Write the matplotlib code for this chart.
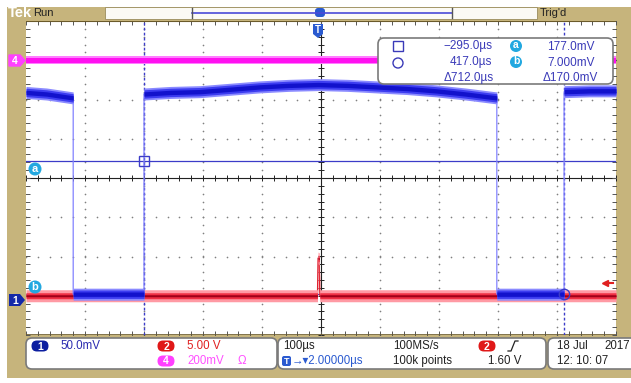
import matplotlib.pyplot as plt
import numpy as np
from matplotlib.patches import Rectangle, FancyBboxPatch, Circle, Polygon

plt.rcParams['font.family'] = ['Liberation Sans', 'DejaVu Sans']

# 时基: 100 µs/div, 屏幕中心对应 +5 µs
t_div = 100.0
t_center = 5.0
# 通道刻度 (每格) 与垂直位置 (格)
ch1_scale, ch1_pos = 50.0, -3.1    # mV/div
ch2_scale, ch2_pos = 5.0, -3.0     # V/div
ch4_scale, ch4_pos = 200.0, 3.0    # mV/div

# 通道1 波形 (µs, mV)
ch1_t = [-495, -460, -415, -415, -295, -295, -250, -200, -150, -100, -50, 0,
         50, 100, 150, 200, 250, 303, 303, 417, 417, 460, 505]
ch1_mv = [264, 262, 257, 7, 7, 262, 264, 265, 268, 271, 273, 274,
          273, 271, 269, 266, 262, 257, 7, 7, 265, 266, 266]
# 通道2 波形 (µs, V)
ch2_t = [-495, -1, 0, 2, 3, 505]
ch2_v = [0, 0, 4.8, 4.7, 0, 0]
# 通道4 波形 (µs, mV)
ch4_t = [-495, 505]
ch4_mv = [0, 0]

# 光标
cur_t = [-295.0, 417.0]     # µs
cur_mv = [177.0, 7.0]       # mV
trig_level = 1.60           # V

W, H = 631, 383
gold = '#c6b47c'
fig = plt.figure(figsize=(W / 100, H / 100), dpi=100)
fig.patch.set_facecolor('white')

bg = fig.add_axes([0, 0, 1, 1], zorder=0)
bg.set_xlim(0, W)
bg.set_ylim(H, 0)
bg.axis('off')
bg.add_patch(Rectangle((7, 7), W - 7, 371, color=gold, lw=0))

# 波形显示区
ax = fig.add_axes([26 / W, (H - 335) / H, 590 / W, 314 / H], zorder=1)
ax.set_xlim(t_center - 5 * t_div, t_center + 5 * t_div)
ax.set_ylim(-4, 4)
ax.set_facecolor('white')
ax.set_xticks([])
ax.set_yticks([])
for s in ax.spines.values():
    s.set_visible(False)
px = 8 / 314  # 一个像素对应的格数

# 网格点
minor_x = t_center + t_div * np.arange(-5, 5.001, 0.2)
minor_y = np.arange(-4, 4.001, 0.2)
for k in range(-4, 5):
    if k == 0:
        continue
    ax.plot(np.full_like(minor_y, t_center + k * t_div), minor_y, ls='none',
            marker='o', ms=1.2, mew=0, color='#808080', zorder=1)
for k in range(-3, 4):
    if k == 0:
        continue
    ax.plot(minor_x, np.full_like(minor_x, k), ls='none',
            marker='o', ms=1.2, mew=0, color='#808080', zorder=1)

# 中心十字线和刻度
ax.axhline(0, color='#222222', lw=0.8, zorder=1)
ax.axvline(t_center, color='#222222', lw=0.8, zorder=1)
ax.plot(minor_x, np.zeros_like(minor_x), ls='none', marker='|', ms=4,
        mew=0.7, color='#222222', zorder=1)
ax.plot(np.full_like(minor_y, t_center), minor_y, ls='none', marker='_',
        ms=4, mew=0.7, color='#222222', zorder=1)
# 边框刻度
for yy in (-4, 4):
    ax.plot(minor_x, np.full_like(minor_x, yy), ls='none', marker='|', ms=6,
            mew=0.7, color='#555555', zorder=1)
for xx in (t_center - 5 * t_div, t_center + 5 * t_div):
    ax.plot(np.full_like(minor_y, xx), minor_y, ls='none', marker='_', ms=6,
            mew=0.7, color='#555555', zorder=1)
ax.axhline(4, color='#6b5a2a', lw=1.5, zorder=1)
ax.axhline(-4, color='#6b5a2a', lw=1.2, zorder=1)

# 光标线
cur_y = [ch1_pos + v / ch1_scale for v in cur_mv]
cur_col = '#3c3cc8'
for t in cur_t:
    ax.axvline(t, color=cur_col, lw=1.0, ls=(0, (2, 1.6)), zorder=2)
for y in cur_y:
    ax.axhline(y, color=cur_col, lw=0.9, zorder=2)

# 通道4 (品红)
y4 = ch4_pos + np.array(ch4_mv) / ch4_scale
ax.fill_between(ch4_t, y4 - 4 * px, y4 + 4 * px, color='#ff7cff', lw=0, zorder=3)
ax.fill_between(ch4_t, y4 - 2.5 * px, y4 + 2.5 * px, color='#ff10f0', lw=0, zorder=3)

# 通道2 (红)
y2 = ch2_pos + np.array(ch2_v) / ch2_scale
ax.plot(ch2_t, y2, color='#e0202e', lw=0.9, zorder=3)
ax.fill_between(ch2_t, y2 - 6 * px, y2 + 6 * px, color='#ff9aa4', lw=0, zorder=3)
ax.fill_between(ch2_t, y2 - 3 * px, y2 + 3 * px, color='#f03044', lw=0, zorder=3)
ax.fill_between(ch2_t, y2 - 1 * px, y2 + 1 * px, color='#a00018', lw=0, zorder=3)

# 通道1 (蓝)
y1 = ch1_pos + np.array(ch1_mv) / ch1_scale
ax.plot(ch1_t, y1, color='#8282ff', lw=0.9, zorder=4)
ax.fill_between(ch1_t, y1 - 6 * px, y1 + 6 * px, color='#8a8aff', lw=0, zorder=4)
ax.fill_between(ch1_t, y1 - 4.2 * px, y1 + 4.2 * px, color='#3c3cf0', lw=0, zorder=4)
ax.fill_between(ch1_t, y1 - 2.2 * px, y1 + 2.2 * px, color='#1212cc', lw=0, zorder=4)

# 光标交点标记
ax.plot(cur_t[0], cur_y[0], marker='s', ms=7.5, mfc='none', mec=cur_col,
        mew=1.0, zorder=5)
ax.plot(cur_t[1], cur_y[1], marker='o', ms=7.5, mfc='none', mec=cur_col,
        mew=1.0, zorder=5)

# 触发电平箭头
ax.plot(t_center + 4.82 * t_div, ch2_pos + trig_level / ch2_scale, marker='<',
        ms=5, color='#e02020', zorder=5, clip_on=False)
ax.plot([t_center + 4.82 * t_div, t_center + 4.95 * t_div],
        [ch2_pos + trig_level / ch2_scale] * 2, color='#e02020', lw=1.5, zorder=5)

# 前景文字与面板
fg = fig.add_axes([0, 0, 1, 1], zorder=2)
fg.set_xlim(0, W)
fg.set_ylim(H, 0)
fg.axis('off')
fg.patch.set_alpha(0)


def badge(x, y, txt, fc, w=17, h=11, fs=7.5):
    fg.add_patch(FancyBboxPatch((x - w / 2, y - h / 2), w, h,
                                boxstyle='round,pad=0,rounding_size=5.5',
                                fc=fc, ec='none'))
    fg.text(x, y + 0.5, txt, color='white', fontsize=fs, fontweight='bold',
            ha='center', va='center')


def panel(x0, x1, y0, y1):
    fg.add_patch(FancyBboxPatch((x0, y0), x1 - x0, y1 - y0,
                                boxstyle='round,pad=0,rounding_size=6',
                                fc='white', ec='#7a7a7a', lw=1.2))


# 顶栏
fg.text(8, 13, 'Tek', color='white', fontsize=10.5, fontweight='bold',
        va='center')
fg.text(33, 13, 'Run', color='#222222', fontsize=8, va='center')
fg.add_patch(Rectangle((105, 7), 432, 11.5, fc='#fbfaf5', ec='#9a8c5c', lw=0.6))
fg.plot([192, 452], [12.5, 12.5], color='#4a4ad8', lw=1.2)
fg.plot([192, 192], [8, 18], color='#555555', lw=1)
fg.plot([452, 452], [8, 18], color='#555555', lw=1)
fg.add_patch(FancyBboxPatch((315, 8), 10, 9, boxstyle='round,pad=0,rounding_size=3',
                            fc='#2a5ad0', ec='none'))
fg.text(540, 13, "Trig'd", color='#222222', fontsize=8, va='center')
# 触发位置标记
fg.add_patch(Polygon([(313, 24), (323, 24), (323, 34), (318, 38), (313, 34)],
                     closed=True, fc='#2a5ad0', ec='none'))
fg.text(318, 30, 'T', color='white', fontsize=7, fontweight='bold',
        ha='center', va='center')

# 通道地电平标记
fg.add_patch(Polygon([(9, 55), (20, 55), (25, 60.5), (20, 66), (9, 66)],
                     closed=True, fc='#ff40ff', ec='#ff40ff'))
fg.text(15, 61, '4', color='white', fontsize=7.5, fontweight='bold',
        ha='center', va='center')
fg.add_patch(Polygon([(9, 294), (20, 294), (25, 300), (20, 306), (9, 306)],
                     closed=True, fc='#1428a8', ec='none'))
fg.text(15, 300.5, '1', color='white', fontsize=7.5, fontweight='bold',
        ha='center', va='center')

# 光标标识 a / b
for yy, lab in ((169, 'a'), (287, 'b')):
    fg.add_patch(Circle((35, yy), 6.5, fc='#22a8e0', ec='none'))
    fg.text(35, yy - 0.5, lab, color='white', fontsize=8, fontweight='bold',
            ha='center', va='center')

# 光标读数
rc = '#3a3ab8'
panel(378, 613, 38, 84)
fg.add_patch(Rectangle((393, 41), 10, 10, fc='none', ec=rc, lw=1))
fg.add_patch(Circle((398, 63), 5, fc='none', ec=rc, lw=1))
fs_r = 8.5
fg.text(492, 46.5, f'\u2212{abs(cur_t[0]):.1f}\u00b5s' if cur_t[0] < 0
        else f'{cur_t[0]:.1f}\u00b5s', color=rc, fontsize=fs_r, ha='right',
        va='center')
fg.text(492, 62.5, f'{cur_t[1]:.1f}\u00b5s', color=rc, fontsize=fs_r,
        ha='right', va='center')
fg.text(494, 78, f'\u0394{cur_t[1] - cur_t[0]:.1f}\u00b5s', color=rc,
        fontsize=fs_r, ha='right', va='center')
for yy, lab in ((46, 'a'), (62, 'b')):
    fg.add_patch(Circle((516, yy), 6, fc='#22a8e0', ec='none'))
    fg.text(516, yy - 0.5, lab, color='white', fontsize=7.5,
            fontweight='bold', ha='center', va='center')
fg.text(595, 46.5, f'{cur_mv[0]:.1f}mV', color=rc, fontsize=fs_r, ha='right',
        va='center')
fg.text(595, 62.5, f'{cur_mv[1]:.3f}mV', color=rc, fontsize=fs_r, ha='right',
        va='center')
fg.text(598, 78, f'\u0394{cur_mv[0] - cur_mv[1]:.1f}mV', color=rc,
        fontsize=fs_r, ha='right', va='center')

# 底部状态栏
fs_b = 8.3
panel(26, 277, 338, 369)
badge(40, 346, '1', '#0c1ea0')
fg.text(60, 346, f'{ch1_scale:.1f}mV', color='#2a2ab0', fontsize=fs_b,
        va='center')
badge(166, 346, '2', '#e01818')
fg.text(187, 346, f'{ch2_scale:.2f} V', color='#e02020', fontsize=fs_b,
        va='center')
badge(166, 361, '4', '#ff40ff')
fg.text(187, 361, f'{ch4_scale:.0f}mV', color='#ff50ff', fontsize=fs_b,
        va='center')
fg.text(238, 361, '\u03a9', color='#ff50ff', fontsize=fs_b, va='center')

panel(278, 546, 338, 369)
fg.text(283, 346, f'{t_div:.0f}\u00b5s', color='#222222', fontsize=fs_b,
        va='center')
fg.add_patch(FancyBboxPatch((282, 356), 9, 10, boxstyle='round,pad=0,rounding_size=2',
                            fc='#2a5ad0', ec='none'))
fg.text(286.5, 361.5, 'T', color='white', fontsize=6.5, fontweight='bold',
        ha='center', va='center')
fg.text(292, 361, '\u2192\u25be2.00000\u00b5s', color='#2a5ad0',
        fontsize=fs_b, va='center')
fg.text(393, 346, '100MS/s', color='#222222', fontsize=fs_b, va='center')
fg.text(393, 361, '100k points', color='#222222', fontsize=fs_b, va='center')
badge(487, 346, '2', '#e01818')
fg.plot([508, 511, 515, 518], [351, 351, 341, 341], color='#222222', lw=0.9)
fg.text(521, 361, f'{trig_level:.2f} V', color='#222222', fontsize=fs_b,
        ha='right', va='center')

panel(548, 660, 338, 369)
fg.text(557, 346, '18 Jul', color='#222222', fontsize=fs_b, va='center')
fg.text(604, 346, '2017', color='#222222', fontsize=fs_b, va='center')
fg.text(557, 361, '12: 10: 07', color='#222222', fontsize=fs_b, va='center')

fig.savefig('out.png', dpi=100, facecolor=fig.get_facecolor())
